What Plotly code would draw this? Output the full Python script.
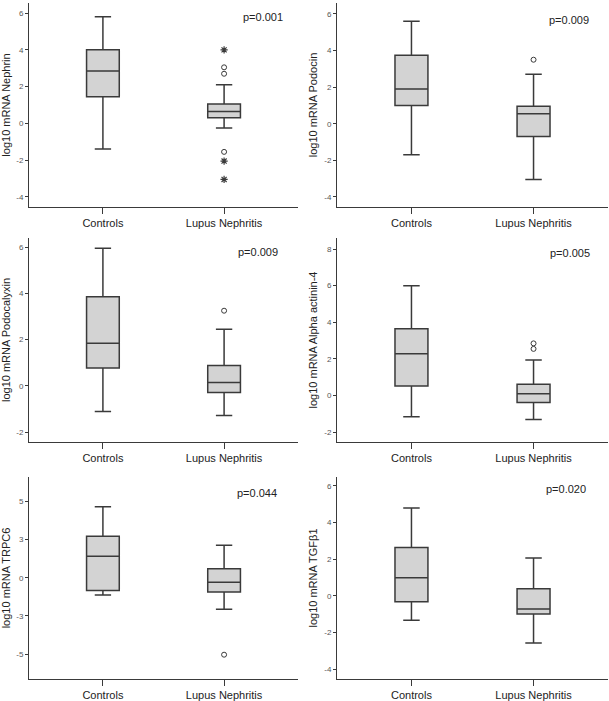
import plotly.graph_objects as go

categories = ["Controls", "Lupus Nephritis"]

titles = ["log10 mRNA Nephrin", "log10 mRNA Podocin", "log10 mRNA Podocalyxin",
          "log10 mRNA Alpha actinin-4", "log10 mRNA TRPC6", "log10 mRNA TGF\u03b21"]
pvalues = ["p=0.001", "p=0.009", "p=0.009", "p=0.005", "p=0.044", "p=0.020"]

# [Controls, Lupus Nephritis]
lower_whisker = [[-1.4, -0.25], [-1.7, -3.05], [-1.1, -1.28], [-1.15, -1.3], [-1.13, -2.07], [-1.33, -2.56]]
q1 = [[1.45, 0.3], [1.0, -0.7], [0.78, -0.28], [0.52, -0.38], [-0.83, -0.93], [-0.31, -0.98]]
medians = [[2.85, 0.65], [1.9, 0.55], [1.85, 0.15], [2.28, 0.1], [1.41, -0.30], [1.0, -0.71]]
q3 = [[4.0, 1.05], [3.75, 0.95], [3.85, 0.88], [3.65, 0.62], [2.72, 0.59], [2.64, 0.4]]
upper_whisker = [[5.8, 2.1], [5.6, 2.7], [5.95, 2.45], [6.0, 1.95], [4.65, 2.13], [4.8, 2.07]]

# outliers (Lupus Nephritis group)
circle_outliers = [[3.05, 2.7, -1.55], [3.5], [3.25], [2.85, 2.55], [-5.04], []]
star_outliers = [[4.0, -2.05, -3.05], [], [], [], [], []]

y_ranges = [[-4.55, 6.55], [-4.55, 6.6], [-2.42, 6.39], [-2.53, 8.6], [-6.63, 6.59], [-4.53, 6.49]]
y_tickvals = [[-4, -2, 0, 2, 4, 6], [-4, -2, 0, 2, 4, 6], [-2, 0, 2, 4, 6],
              [-2, 0, 2, 4, 6, 8], [-5, -2.5, 0, 2.5, 5], [-4, -2, 0, 2, 4, 6]]
y_ticktext = [["-4", "-2", "0", "2", "4", "6"], ["-4", "-2", "0", "2", "4", "6"], ["-2", "0", "2", "4", "6"],
              ["-2", "0", "2", "4", "6", "8"], ["-5", "-3", "0", "3", "5"], ["-4", "-2", "0", "2", "4", "6"]]

W, H = 609, 701
col_px = [(29, 298), (337, 608)]
row_px = [(3, 207), (238, 442), (477, 679)]
p_pos = [(263, 17), (569, 20), (258, 252), (570, 253), (257, 493), (566, 489)]

fig = go.Figure()
line_col = "#3a3a3a"
font_fam = "Liberation Sans, Arial, sans-serif"

for i in range(6):
    r, c = divmod(i, 2)
    ax = "" if i == 0 else str(i + 1)
    xa, ya = "x" + ax, "y" + ax
    fig.add_trace(go.Box(
        x=categories, q1=q1[i], median=medians[i], q3=q3[i],
        lowerfence=lower_whisker[i], upperfence=upper_whisker[i],
        boxpoints=False, width=0.27, whiskerwidth=0.5,
        fillcolor="#d3d3d3", line=dict(color=line_col, width=1.5),
        xaxis=xa, yaxis=ya, showlegend=False, hoverinfo="skip"))
    if circle_outliers[i]:
        fig.add_trace(go.Scatter(
            x=[categories[1]] * len(circle_outliers[i]), y=circle_outliers[i], mode="markers",
            marker=dict(symbol="circle-open", size=5, color=line_col, line=dict(width=1)),
            xaxis=xa, yaxis=ya, showlegend=False))
    if star_outliers[i]:
        fig.add_trace(go.Scatter(
            x=[categories[1]] * len(star_outliers[i]), y=star_outliers[i], mode="markers",
            marker=dict(symbol="asterisk-open", size=6, color=line_col, line=dict(width=1.2, color=line_col)),
            xaxis=xa, yaxis=ya, showlegend=False))

    x0, x1 = col_px[c]
    y0, y1 = row_px[r]
    xdom = [x0 / W, x1 / W]
    ydom = [1 - y1 / H, 1 - y0 / H]
    fig.layout["xaxis" + ax] = dict(
        domain=xdom, anchor=ya, range=[-0.61, 1.61], type="category",
        showline=True, linecolor=line_col, linewidth=1, showgrid=False, zeroline=False,
        ticks="outside", ticklen=6, tickcolor=line_col, tickwidth=1,
        tickfont=dict(size=11, color="#222", family=font_fam), fixedrange=True)
    fig.layout["yaxis" + ax] = dict(
        domain=ydom, anchor=xa, range=y_ranges[i],
        tickvals=y_tickvals[i], ticktext=y_ticktext[i],
        showline=True, linecolor=line_col, linewidth=1, showgrid=False, zeroline=False,
        ticks="outside", ticklen=3, tickcolor=line_col, tickwidth=1,
        tickfont=dict(size=8, color="#555", family=font_fam),
        title=dict(text=titles[i], font=dict(size=11, color="#222", family=font_fam), standoff=4))
    px, py = p_pos[i]
    fig.add_annotation(
        x=(px - x0) / (x1 - x0), y=(y1 - py) / (y1 - y0),
        xref=xa + " domain", yref=ya + " domain", text=pvalues[i], showarrow=False,
        xanchor="center", yanchor="middle",
        font=dict(size=11, color="#222", family=font_fam))

fig.update_layout(width=W, height=H, margin=dict(l=0, r=0, t=0, b=0),
                  plot_bgcolor="white", paper_bgcolor="white", showlegend=False)
fig.write_html("out.html", config={"displayModeBar": False},
               post_script="document.body.style.margin='0';document.body.style.overflow='hidden';")
